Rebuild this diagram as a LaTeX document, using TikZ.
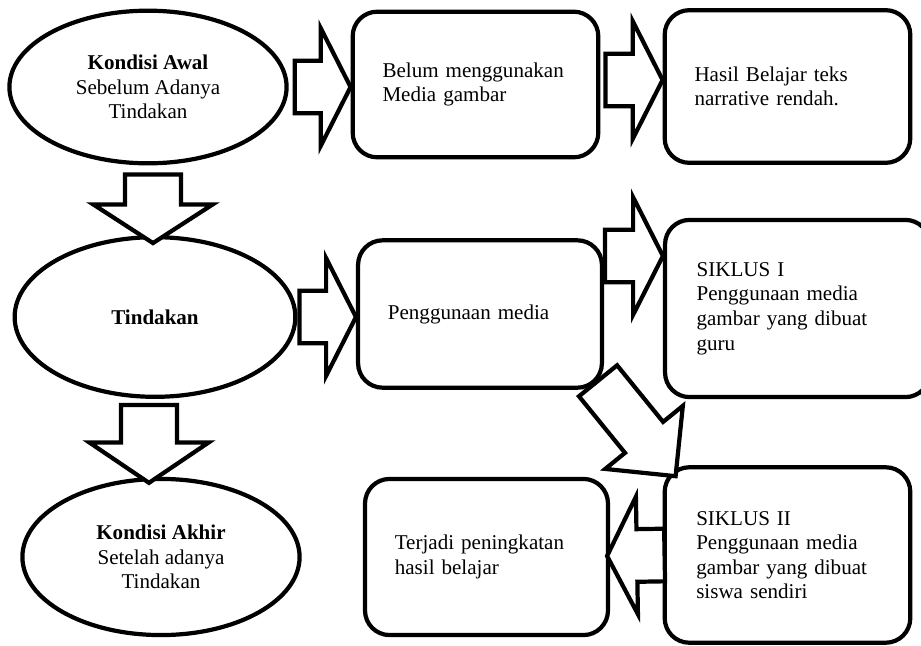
\documentclass[tikz,border=0pt]{standalone}
\usepackage{fontspec}
\setmainfont{Liberation Serif}
\usetikzlibrary{shapes.geometric, calc}

\begin{document}
\begin{tikzpicture}[
    x=0.57pt, y=-0.57pt,
    font=\fontsize{12}{14}\selectfont,
    oval/.style={ellipse, draw, line width=2.4pt, align=center, inner sep=0pt},
    box/.style={draw, line width=2.4pt, rounded corners=14pt, align=left,
                inner xsep=17pt, inner ysep=0pt},
    fat w/.store in=\fatw, fat h/.store in=\fath, fat l/.store in=\fatl,
    fat w=15pt, fat h=33.5pt, fat l=17pt,
    fat/.style={draw, fill=white, line width=2.4pt, to path={
        let \p1=(\tikztostart), \p2=(\tikztotarget),
            \p3=($(\p2)!\fatl!(\p1)$) in
        ($(\p1)!\fatw!90:(\p2)$) -- ($(\p3)!\fatw!90:(\p2)$)
        -- ($(\p3)!\fath!90:(\p2)$) -- (\p2)
        -- ($(\p3)!\fath!-90:(\p2)$) -- ($(\p3)!\fatw!-90:(\p2)$)
        -- ($(\p1)!\fatw!-90:(\p2)$) -- cycle}}
]
\clip (0,0) rectangle (921,646);

% left column
\node[oval, minimum width=158pt, minimum height=87pt] (awal) at (148,87)
    {\textbf{Kondisi Awal}\\Sebelum Adanya\\Tindakan};
\node[oval, minimum width=160pt, minimum height=91pt] (tindakan) at (155,317)
    {\textbf{Tindakan}};
\node[oval, minimum width=158pt, minimum height=89pt] (akhir) at (161,557)
    {\textbf{Kondisi Akhir}\\Setelah adanya\\Tindakan};

% middle column
\node[box, minimum width=140pt, minimum height=83pt, text width=106pt] (belum) at (475.5,84.5)
    {Belum menggunakan\\Media gambar};
\node[box, minimum width=139pt, minimum height=84pt, text width=105pt] (media) at (480,314)
    {Penggunaan media};
\node[box, minimum width=138.5pt, minimum height=89pt, text width=104.5pt] (naik) at (486.5,557)
    {Terjadi peningkatan\\hasil belajar};

% right column
\node[box, minimum width=140pt, minimum height=87pt, text width=106pt] (hasil) at (787.5,86.5)
    {Hasil Belajar teks\\narrative rendah.};
\node[box, inner xsep=18pt, minimum width=151pt, minimum height=101pt, text width=115pt] (s1) at (797.5,308.5)
    {SIKLUS I\\Penggunaan media\\gambar yang dibuat\\guru};
\node[box, inner xsep=18pt, minimum width=140pt, minimum height=100pt, text width=104pt] (s2) at (787.5,555)
    {SIKLUS II\\Penggunaan media\\gambar yang dibuat\\siswa sendiri};

% block arrows
\draw[fat, fat w=16pt, fat h=34pt, fat l=22pt] ($(awal.south)+(5,9)$) to ($(tindakan.north)+(-2,8)$);
\draw[fat, fat w=16pt, fat h=34pt, fat l=23pt] ($(tindakan.south)+(-6,6)$) to ($(akhir.north)+(-12,6)$);
\draw[fat] ($(awal.east)+(6,0)$) to (belum.west |- awal.east);
\draw[fat] ($(belum.east)+(5,-4.5)$) to ($(hasil.west)+(0,-6.5)$);
\draw[fat] ($(tindakan.east)+(2,0)$) to (media.west |- tindakan.east);
\draw[fat] ($(media.east)+(1,-58)$) to ($(s1.west)+(0,-52.5)$);
\draw[fat, fat w=14pt, fat h=28.5pt, fat l=28.5pt] ($(media.south east)+(-6,-9)$) to ($(s2.north west)+(13,11)$);
\draw[fat] ($(s2.west)+(2,0)$) to ($(naik.east)+(-3,-1)$);
\end{tikzpicture}
\end{document}
